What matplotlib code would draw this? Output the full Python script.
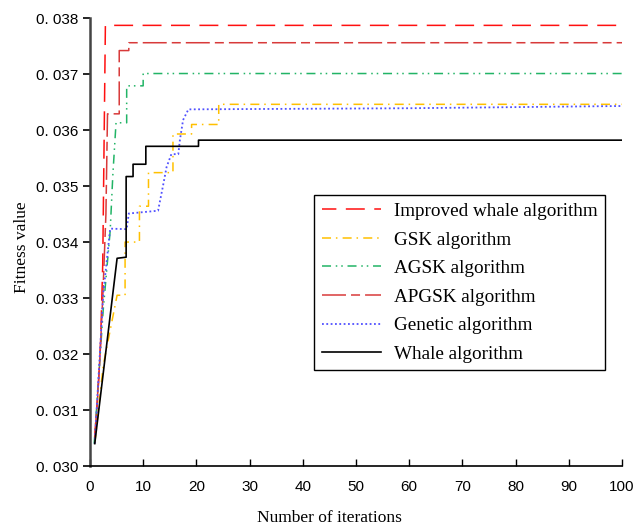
import matplotlib
matplotlib.use('Agg')
import matplotlib.pyplot as plt
from matplotlib.ticker import FuncFormatter

# iteration / fitness values
iw_x = [0.9, 1.5, 2.0, 2.4, 2.9, 100]
iw_y = [0.0305, 0.0313, 0.0322, 0.0336, 0.03787, 0.03787]

gsk_x = [0.9, 2.5, 5.1, 6.6, 6.6, 9.3, 9.3, 11.0, 11.0, 15.6, 15.6, 19.1, 19.1, 24.2, 24.2, 100]
gsk_y = [0.0304, 0.0318, 0.03305, 0.03305, 0.03400, 0.03400, 0.03464, 0.03464, 0.03524, 0.03524,
         0.03593, 0.03593, 0.03610, 0.03610, 0.03646, 0.03646]

agsk_x = [0.8, 2.5, 3.8, 4.3, 4.9, 6.9, 6.9, 10.0, 10.0, 100]
agsk_y = [0.0304, 0.0328, 0.0342, 0.0352, 0.03613, 0.03613, 0.03679, 0.03679, 0.03701, 0.03701]

apgsk_x = [0.9, 1.8, 2.4, 3.0, 3.3, 5.5, 5.5, 7.3, 7.3, 100]
apgsk_y = [0.0305, 0.0318, 0.0330, 0.0345, 0.03629, 0.03629, 0.03742, 0.03742, 0.03756, 0.03756]

ga_x = [0.9, 2.5, 3.8, 6.9, 7.3, 12.8, 13.7, 14.4, 15.3, 16.6, 16.9, 17.5, 18.5, 60, 100]
ga_y = [0.0304, 0.03308, 0.03424, 0.03423, 0.03451, 0.03456, 0.03499, 0.03534, 0.03557, 0.03557,
        0.03582, 0.03618, 0.03637, 0.03639, 0.03643]

wh_x = [0.9, 5.1, 6.8, 6.8, 8.1, 8.1, 10.5, 10.5, 20.4, 20.4, 100]
wh_y = [0.0304, 0.03371, 0.03373, 0.03517, 0.03517, 0.03539, 0.03539, 0.03571, 0.03571, 0.03582, 0.03582]

labels = ['Improved whale algorithm', 'GSK algorithm', 'AGSK algorithm',
          'APGSK algorithm', 'Genetic algorithm', 'Whale algorithm']

fig = plt.figure(figsize=(6.38, 5.32), dpi=100)
ax = fig.add_axes([0.141, 0.124, 0.834, 0.842])

ax.plot(iw_x, iw_y, color='#ff1010', lw=1.1, ls=(3, (12.4, 6.2)), label=labels[0])
ax.plot(gsk_x, gsk_y, color='#ffc000', lw=1.1, ls=(0, (5.9, 3.2, 1, 3.4)), label=labels[1])
ax.plot(agsk_x, agsk_y, color='#22b466', lw=1.1, ls=(0, (5.9, 3.1, 1, 2.6, 1, 3.1)), label=labels[2])
ax.plot(apgsk_x, apgsk_y, color='#d83a3a', lw=1.1, ls=(0, (15.7, 3.3, 5.9, 3.3)), label=labels[3])
ax.plot(ga_x, ga_y, color='#5050ff', lw=1.3, ls=(0, (1, 1.4)), label=labels[4])
ax.plot(wh_x, wh_y, color='black', lw=1.2, label=labels[5])

ax.set_xlim(0, 100)
ax.set_ylim(0.030, 0.038)
ax.set_xticks(range(0, 101, 10))
ax.set_yticks([0.030 + 0.001 * i for i in range(9)])
ax.yaxis.set_major_formatter(FuncFormatter(lambda v, p: '0. ' + ('%.3f' % v)[2:]))

for s in ['top', 'right']:
    ax.spines[s].set_visible(False)
ax.spines['left'].set_linewidth(1.8)
ax.spines['left'].set_color('#444444')
ax.spines['bottom'].set_linewidth(1.2)

ax.tick_params(axis='y', direction='out', length=5, width=1.2, labelsize=11)
ax.tick_params(axis='x', direction='in', length=5, width=1.0, labelsize=11, pad=10)
for t in ax.get_xticklabels() + ax.get_yticklabels():
    t.set_fontfamily('Liberation Sans')

ax.set_xlabel('Number of iterations', family='Liberation Serif', fontsize=12.5)
ax.set_ylabel('Fitness value', family='Liberation Serif', fontsize=12.5)
ax.xaxis.set_label_coords(0.451, -0.098)
ax.yaxis.set_label_coords(-0.112, 0.489)

leg = ax.legend(loc='upper right', bbox_to_anchor=(0.968, 0.605),
                prop={'family': 'Liberation Serif', 'size': 13.8},
                handlelength=3.1, labelspacing=0.58, borderpad=0.4,
                handletextpad=0.65, fancybox=False, framealpha=1, borderaxespad=0)
leg.get_frame().set_edgecolor('black')
leg.get_frame().set_linewidth(1.0)

fig.savefig('out.png', dpi=100)
